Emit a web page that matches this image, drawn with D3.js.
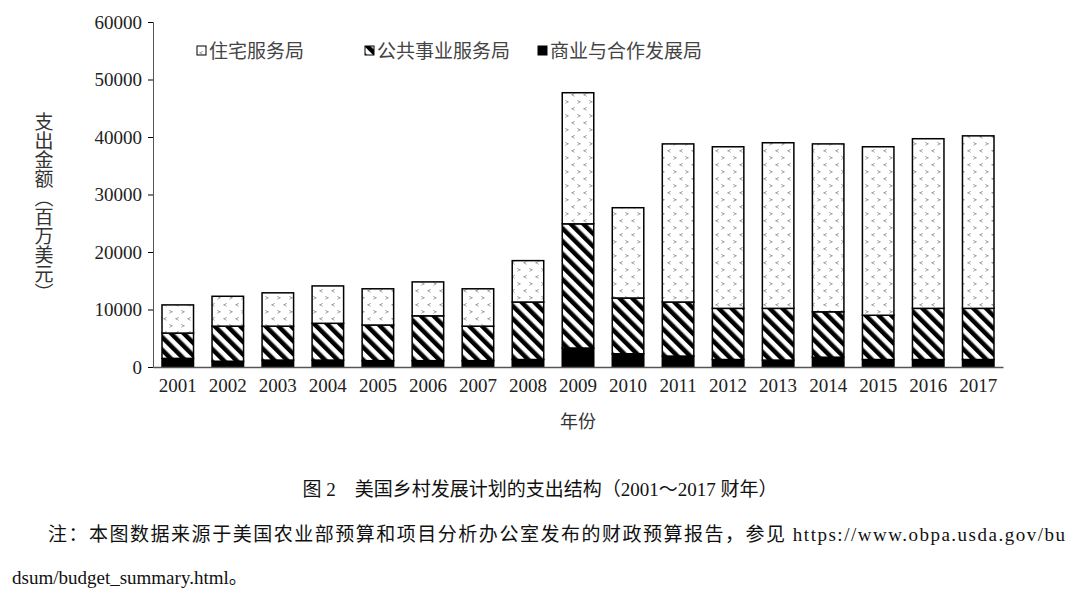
<!DOCTYPE html>
<html><head><meta charset="utf-8">
<script src="https://cdn.jsdelivr.net/npm/d3@7"></script>
<style>body{margin:0;background:#fff;font-family:"Liberation Serif","Noto Sans CJK SC",serif;}</style>
</head><body><svg id="c" width="1080" height="597"></svg>
<script>
const years = ["2001","2002","2003","2004","2005","2006","2007","2008","2009","2010","2011","2012","2013","2014","2015","2016","2017"];
// cumulative tops
const totalTop = [10800,12300,12900,14100,13600,14800,13600,18500,47700,27700,38800,38300,39000,38800,38300,39700,40200];
const publicTop = [5900,7100,7100,7600,7300,8900,7100,11300,24900,12000,11300,10200,10200,9600,9000,10200,10200];
const business = [1500,1000,1200,1200,1100,1100,1100,1300,3300,2300,1900,1300,1200,1700,1300,1300,1300];
const seriesNames = ["住宅服务局","公共事业服务局","商业与合作发展局"];
const yTicks = [0,10000,20000,30000,40000,50000,60000];

const rows = years.map((y,i)=>({year:y, business:business[i], public:publicTop[i]-business[i], housing:totalTop[i]-publicTop[i]}));
const mixed = '"Liberation Serif","Noto Sans CJK SC"';

const svg = d3.select("#c");
const defs = svg.append("defs");
const p1 = defs.append("pattern").attr("id","dots").attr("patternUnits","userSpaceOnUse").attr("width",12).attr("height",14);
p1.append("rect").attr("width",12).attr("height",14).attr("fill","#fff");
p1.append("text").attr("x",1).attr("y",6).attr("font-size",7).attr("fill","#333").text(">");
p1.append("text").attr("x",7).attr("y",13).attr("font-size",7).attr("fill","#333").text("<");
const p2 = defs.append("pattern").attr("id","diag").attr("patternUnits","userSpaceOnUse").attr("width",9).attr("height",9).attr("patternTransform","rotate(-45)");
p2.append("rect").attr("width",9).attr("height",9).attr("fill","#fff");
p2.append("rect").attr("width",4.5).attr("height",9).attr("fill","#000");

const x = d3.scaleBand().domain(years).range([153,1003]).paddingInner(0.37).paddingOuter(0.18);
const y = d3.scaleLinear().domain([0,60000]).range([367,22]);

const stack = d3.stack().keys(["business","public","housing"])(rows);
const fills = {business:"#000", public:"url(#diag)", housing:"url(#dots)"};
svg.append("g").selectAll("g").data(stack).join("g")
  .attr("fill", d=>fills[d.key])
  .selectAll("rect").data(d=>d).join("rect")
  .attr("x", d=>x(d.data.year)).attr("width", x.bandwidth())
  .attr("y", d=>y(d[1])).attr("height", d=>y(d[0])-y(d[1]))
  .attr("stroke","#000").attr("stroke-width",1.5);

const ya = svg.append("g").attr("transform","translate(153,0)")
  .call(d3.axisLeft(y).tickValues(yTicks).tickSize(5).tickPadding(6).tickFormat(d3.format("d")));
ya.selectAll("text").attr("font-size",19).attr("font-family","Liberation Serif").attr("fill","#222");
ya.select(".domain").attr("stroke","#555");
const xa = svg.append("g").attr("transform","translate(0,367)")
  .call(d3.axisBottom(x).tickSize(0).tickPadding(12));
xa.selectAll("text").attr("font-size",19).attr("font-family","Liberation Serif").attr("fill","#222");
xa.select(".domain").attr("stroke","#555").attr("stroke-width",1.5);

svg.append("text").attr("x",578).attr("y",428).attr("text-anchor","middle").attr("font-size",18).attr("font-family","Noto Sans CJK SC").attr("fill","#333").text("年份");
svg.append("text").attr("transform","translate(44,112)").attr("font-size",19).attr("font-family","Noto Sans CJK SC").attr("fill","#333")
  .attr("writing-mode","tb").attr("glyph-orientation-vertical",0).text("支出金额（百万美元）");

const leg = svg.append("g").attr("font-family","Noto Sans CJK SC").attr("font-size",19).attr("fill","#444");
const legX = [197,365,538];
const legF = ["url(#dots)","url(#diag)","#000"];
seriesNames.forEach((n,i)=>{
  leg.append("rect").attr("x",legX[i]).attr("y",46).attr("width",9).attr("height",9).attr("fill",legF[i]).attr("stroke","#000");
  leg.append("text").attr("x",legX[i]+12).attr("y",58).text(n);
});

svg.append("text").attr("x",540).attr("y",496).attr("text-anchor","middle").attr("font-size",19).attr("font-family",mixed).attr("fill","#111").text("图 2　美国乡村发展计划的支出结构（2001～2017 财年）");
svg.append("text").attr("x",48).attr("y",541).attr("font-size",19).attr("textLength",1017).attr("font-family",mixed).attr("fill","#111").text("注：本图数据来源于美国农业部预算和项目分析办公室发布的财政预算报告，参见 https://www.obpa.usda.gov/bu");
svg.append("text").attr("x",12).attr("y",584).attr("font-size",19).attr("font-family",mixed).attr("fill","#111").text("dsum/budget_summary.html。");
</script></body></html>
